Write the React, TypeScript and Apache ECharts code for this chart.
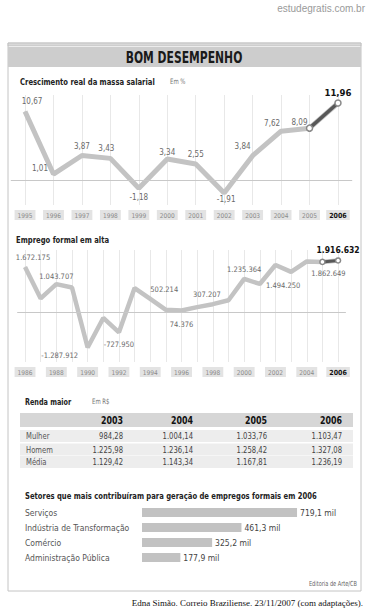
import React, { useEffect, useRef } from 'react';
import * as echarts from 'echarts';

// ---------- DATA ----------
const growthYears = ['1995', '1996', '1997', '1998', '1999', '2000', '2001', '2002', '2003', '2004', '2005', '2006'];
const growthValues = [10.67, 1.01, 3.87, 3.43, -1.18, 3.34, 2.55, -1.91, 3.84, 7.62, 8.09, 11.96];

const jobYears = ['1986', '1987', '1988', '1989', '1990', '1991', '1992', '1993', '1994', '1995', '1996',
  '1997', '1998', '1999', '2000', '2001', '2002', '2003', '2004', '2005', '2006'];
const jobValues = [1672175, 520000, 1043707, 920000, -1287912, -200000, -727950, 900000, 502214, 100000, 74376,
  200000, 307207, 450000, 1235364, 1050000, 1750000, 1494250, 1880000, 1862649, 1916632];

const tableYears = ['2003', '2004', '2005', '2006'];
const tableRowNames = ['Mulher', 'Homem', 'Média'];
const mulherValues = [984.28, 1004.14, 1033.76, 1103.47];
const homemValues = [1225.98, 1236.14, 1258.42, 1327.08];
const mediaValues = [1129.42, 1143.34, 1167.81, 1236.19];

const sectorNames = ['Serviços', 'Indústria de Transformação', 'Comércio', 'Administração Pública'];
const sectorValues = [719.1, 461.3, 325.2, 177.9];

// ---------- LAYOUT (not data) ----------
const growthLabelLayout: any[] = [
  { position: 'top', offset: [7, 0] },
  { position: 'left', offset: [0, -6] },
  { position: 'top', offset: [0, 0] },
  { position: 'top', offset: [-4, 0] },
  { position: 'bottom', offset: [0, 0] },
  { position: 'top', offset: [0, 3] },
  { position: 'top', offset: [0, 0] },
  { position: 'bottom', offset: [2, -3] },
  { position: 'top', offset: [-10, 0] },
  { position: 'top', offset: [-9, 2] },
  { position: 'top', offset: [-10, 4] },
  { position: 'top', offset: [0, 0] },
];
// labels shown only for these years
const jobLabelLayout: Record<string, any> = {
  '1986': { position: 'top', offset: [8, 0] },
  '1988': { position: 'top', offset: [0, 2] },
  '1990': { position: 'bottom', offset: [-28, -2] },
  '1992': { position: 'bottom', offset: [0, 3] },
  '1994': { position: 'top', offset: [14, 0] },
  '1996': { position: 'bottom', offset: [0, 4] },
  '1998': { position: 'top', offset: [-6, 0] },
  '2000': { position: 'top', offset: [0, 0] },
  '2003': { position: 'bottom', offset: [-8, 4] },
  '2005': { position: 'bottom', offset: [6, 2] },
  '2006': { position: 'top', offset: [0, 0] },
};

const NARROW = '"DejaVu Sans Condensed", "Liberation Sans", sans-serif';
const SQ = 0.8; // horizontal squeeze for condensed look

function fmtComma(v: number, d: number) {
  return v.toFixed(d).replace('.', ',');
}
function fmtThousands(v: number) {
  const neg = v < 0;
  const s = Math.abs(Math.round(v)).toString().replace(/\B(?=(\d{3})+(?!\d))/g, '.');
  return (neg ? '-' : '') + s;
}
function fmtMoney(v: number) {
  const [i, d] = v.toFixed(2).split('.');
  return i.replace(/\B(?=(\d{3})+(?!\d))/g, '.') + ',' + d;
}

export default function App() {
  const ref = useRef<HTMLDivElement>(null);

  useEffect(() => {
    document.body.style.margin = '0';
    const chart = echarts.init(ref.current!, null, { renderer: 'svg' });

    const nG = growthValues.length;
    const nJ = jobValues.length;

    const growthData = growthValues.map((v, i) => {
      const last = i === nG - 1;
      return {
        value: v,
        label: {
          show: true,
          ...growthLabelLayout[i],
          fontWeight: last ? 'bold' : 'normal',
          color: last ? '#111' : '#6a6a6a',
          fontSize: last ? 9.5 : 8,
        },
      };
    });
    const growthTail = growthValues.map((v, i) => (i >= nG - 2 ? v : '-'));

    const jobData = jobValues.map((v, i) => {
      const lay = jobLabelLayout[jobYears[i]];
      const last = i === nJ - 1;
      return {
        value: v,
        label: lay
          ? {
              show: true,
              ...lay,
              fontWeight: last ? 'bold' : 'normal',
              color: last ? '#111' : '#6a6a6a',
              fontSize: last ? 8.5 : 7.5,
            }
          : { show: false },
      };
    });
    const jobTail = jobValues.map((v, i) => (i >= nJ - 2 ? v : '-'));

    const xLabelBase = (data: string[]) => ({
      fontSize: 6.5,
      color: '#8a8a8a',
      fontFamily: NARROW,
      backgroundColor: '#e3e3e3',
      padding: [2, 3, 1, 3],
      margin: 5,
      interval: 0,
      formatter: (val: string) => (val === data[data.length - 1] ? '{b|' + val + '}' : val),
      rich: { b: { fontWeight: 'bold', color: '#111', fontSize: 7, fontFamily: NARROW } },
    });

    const graphics: any[] = [];
    const txt = (text: string, x: number, y: number, o: any = {}) =>
      graphics.push({
        type: 'text',
        x,
        y,
        scaleX: o.scaleX ?? SQ,
        z: 10,
        style: {
          text,
          fill: o.fill || '#222',
          fontSize: o.fontSize || 9,
          fontWeight: o.fontWeight || 'normal',
          fontFamily: o.fontFamily || NARROW,
          textAlign: o.align || 'left',
          textVerticalAlign: 'middle',
        },
      });

    // watermark
    txt('estudegratis.com.br', 365, 8, { fill: '#9a9a9a', fontSize: 10, align: 'right', scaleX: 1, fontFamily: '"Liberation Sans", sans-serif' });
    // box
    graphics.push({ type: 'rect', shape: { x: 8, y: 43, width: 353, height: 548 }, style: { fill: 'none', stroke: '#c4c4c4', lineWidth: 1 } });
    graphics.push({ type: 'rect', shape: { x: 8, y: 43, width: 353, height: 3 }, style: { fill: '#d8d8d8', stroke: '#b0b0b0', lineWidth: 0.5 } });
    graphics.push({ type: 'rect', shape: { x: 8, y: 47, width: 353, height: 20 }, style: { fill: '#cdcdcd' } });
    txt('BOM DESEMPENHO', 184, 57.5, { fontSize: 15, fontWeight: 'bold', align: 'center', fill: '#1a1a1a' });

    // headings
    txt('Crescimento real da massa salarial', 20, 82, { fontWeight: 'bold', fontSize: 9.5 });
    txt('Em %', 170, 82, { fontSize: 7.5, fill: '#777' });
    txt('Emprego formal em alta', 16, 240, { fontWeight: 'bold', fontSize: 9.5 });
    txt('Renda maior', 25, 402, { fontWeight: 'bold', fontSize: 9 });
    txt('Em R$', 92, 402, { fontSize: 7.5, fill: '#777' });

    // table
    const colX = [123, 193, 267, 342];
    graphics.push({ type: 'rect', shape: { x: 20, y: 413, width: 333, height: 14 }, style: { fill: '#d6d6d6' } });
    tableYears.forEach((y, j) => txt(y, colX[j], 420.5, { fontWeight: 'bold', fontSize: 11, align: 'right', fill: '#111' }));
    const rowsVals = [mulherValues, homemValues, mediaValues];
    const rowY = [436, 449.5, 462];
    tableRowNames.forEach((name, r) => {
      graphics.push({ type: 'rect', shape: { x: 20, y: rowY[r] - 6, width: 333, height: 12 }, style: { fill: '#ededed' } });
      txt(name, 26, rowY[r], { fontSize: 9.5, fill: '#555' });
      rowsVals[r].forEach((v, j) => txt(fmtMoney(v), colX[j], rowY[r], { fontSize: 9.5, fill: '#444', align: 'right' }));
    });

    txt('Setores que mais contribuíram para geração de empregos formais em 2006', 25, 496, { fontWeight: 'bold', fontSize: 9.5 });
    txt('Editoria de Arte/CB', 357, 583, { fontSize: 7, fill: '#666', align: 'right' });
    txt('Edna Simão. Correio Braziliense. 23/11/2007 (com adaptações).', 363, 603, {
      fontSize: 9, fill: '#111', align: 'right', scaleX: 1, fontFamily: '"Liberation Serif", "DejaVu Serif", serif',
    });

    const option: any = {
      animation: false,
      backgroundColor: '#fff',
      grid: [
        { left: 10.8, top: 95, width: 341.4, height: 110 },
        { left: 17.2, top: 250, width: 328.7, height: 112 },
        { left: 142, top: 505, width: 215.6, height: 60 },
      ],
      xAxis: [
        {
          gridIndex: 0, type: 'category', data: growthYears, boundaryGap: true,
          axisLine: { show: false }, axisTick: { show: false },
          axisLabel: xLabelBase(growthYears),
          splitLine: { show: true, alignWithLabel: true, lineStyle: { color: '#e8e8e8', width: 1 } },
        },
        {
          gridIndex: 1, type: 'category', data: jobYears, boundaryGap: true,
          axisLine: { show: false }, axisTick: { show: false },
          axisLabel: { ...xLabelBase(jobYears), interval: 1 },
          splitLine: { show: true, interval: 0, alignWithLabel: true, lineStyle: { color: '#e8e8e8', width: 1 } },
        },
        { gridIndex: 2, type: 'value', min: 0, max: 1000, show: false },
      ],
      yAxis: [
        { gridIndex: 0, type: 'value', min: -3.76, max: 13.2, show: false },
        { gridIndex: 1, type: 'value', min: -1820000, max: 2300000, show: false },
        {
          gridIndex: 2, type: 'category', data: sectorNames, inverse: true,
          axisLine: { show: false }, axisTick: { show: false },
          axisLabel: { align: 'left', margin: 117, fontSize: 8.5, color: '#555', fontFamily: NARROW },
        },
      ],
      series: [
        {
          type: 'line', xAxisIndex: 0, yAxisIndex: 0, data: growthData,
          symbol: 'circle', symbolSize: 1, showSymbol: true, itemStyle: { color: '#c3c3c3' },
          lineStyle: { color: '#c3c3c3', width: 5 }, z: 3,
          label: { show: true, fontFamily: NARROW, formatter: (p: any) => fmtComma(p.value, 2) },
          markLine: {
            silent: true, symbol: 'none', label: { show: false },
            lineStyle: { color: '#c8c8c8', type: 'solid', width: 1 },
            data: [{ yAxis: 0 }],
          },
        },
        {
          type: 'line', xAxisIndex: 0, yAxisIndex: 0, data: growthTail, symbol: 'circle', symbolSize: 6,
          lineStyle: { color: '#585858', width: 3.5 }, itemStyle: { color: '#fff', borderColor: '#888', borderWidth: 1.5 }, z: 4,
        },
        {
          type: 'line', xAxisIndex: 1, yAxisIndex: 1, data: jobData,
          symbol: 'circle', symbolSize: 1, showSymbol: true, itemStyle: { color: '#c3c3c3' },
          lineStyle: { color: '#c3c3c3', width: 4.5 }, z: 3,
          label: { fontFamily: NARROW, formatter: (p: any) => fmtThousands(p.value) },
          markLine: {
            silent: true, symbol: 'none', label: { show: false },
            lineStyle: { color: '#c8c8c8', type: 'solid', width: 1 },
            data: [{ yAxis: 0 }],
          },
        },
        {
          type: 'line', xAxisIndex: 1, yAxisIndex: 1, data: jobTail, symbol: 'circle', symbolSize: 5,
          lineStyle: { color: '#585858', width: 3 }, itemStyle: { color: '#fff', borderColor: '#888', borderWidth: 1.5 }, z: 4,
        },
        {
          type: 'bar', xAxisIndex: 2, yAxisIndex: 2, data: sectorValues, barWidth: 9,
          itemStyle: { color: '#c2c2c2' },
          label: {
            show: true, position: 'right', distance: 3, fontSize: 8.5, color: '#444', fontFamily: NARROW,
            formatter: (p: any) => fmtComma(p.value, 1) + ' mil',
          },
        },
      ],
      graphic: graphics,
    };

    chart.setOption(option);
    return () => chart.dispose();
  }, []);

  return <div ref={ref} style={{ width: 370, height: 614 }} />;
}
